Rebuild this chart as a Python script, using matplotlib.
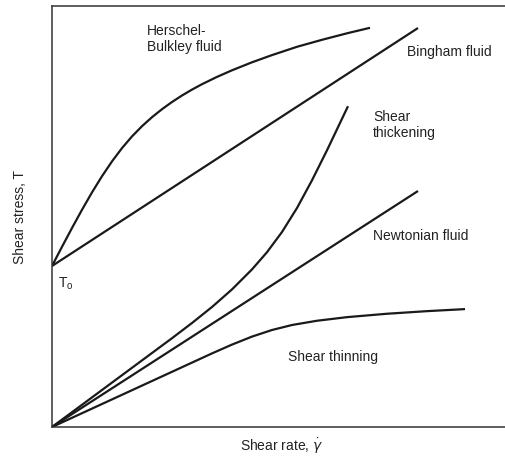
import matplotlib
matplotlib.use("Agg")
import matplotlib.pyplot as plt

plt.rcParams['font.family'] = ['Liberation Sans', 'DejaVu Sans']

# curves (arbitrary units: shear rate vs shear stress)
hb_x = [0, 10, 20, 30, 40, 50, 60, 70, 80, 90, 100, 110, 120, 130, 140, 150,
        165, 180, 200, 220, 245, 270, 295, 318]
hb_y = [161, 180.2, 199.0, 217.2, 234.6, 250.8, 265.6, 278.9, 290.6, 300.8, 309.8,
        317.8, 325.0, 331.5, 337.4, 342.8, 350.1, 356.7, 364.7, 371.9, 380.2, 387.2,
        393.7, 399.2]

bingham_x = [0, 366]
bingham_y = [161, 399]

newton_x = [0, 366]
newton_y = [0, 236]

thick_x = [0, 60, 120, 140, 160, 180, 200, 215, 230, 245, 260, 275, 296]
thick_y = [0, 44.4, 88.8, 104.0, 120.0, 137.6, 157.6, 174.8, 195.0, 219.0, 246.7,
           276.7, 320.8]

thin_x = [0, 80, 160, 180, 200, 220, 240, 265, 295, 335, 375, 413]
thin_y = [0, 36.8, 73.6, 82.4, 90.4, 97.0, 102.0, 106.25, 109.85, 113.25, 115.85, 117.9]

line_color = '#1a1a1a'
lw = 1.6

fig = plt.figure(figsize=(5.05, 4.59), dpi=100)
ax = fig.add_axes([52 / 505, 32 / 459, 460 / 505, 421 / 459])

for xs, ys in [(hb_x, hb_y), (bingham_x, bingham_y), (newton_x, newton_y),
               (thick_x, thick_y), (thin_x, thin_y)]:
    ax.plot(xs, ys, color=line_color, linewidth=lw, solid_capstyle='butt',
            solid_joinstyle='round')

ax.set_xlim(0, 460)
ax.set_ylim(0, 421)
ax.set_xticks([])
ax.set_yticks([])
ax.spines['right'].set_visible(False)
for side in ['left', 'bottom', 'top']:
    ax.spines[side].set_linewidth(1.1)
    ax.spines[side].set_color('#333333')

fs = 10
tc = '#222222'
ax.text(95, 403, 'Herschel-\nBulkley fluid', fontsize=fs, color=tc, va='top', ha='left',
        linespacing=1.15)
ax.text(355, 375, 'Bingham fluid', fontsize=fs, color=tc, va='center', ha='left')
ax.text(321, 317, 'Shear\nthickening', fontsize=fs, color=tc, va='top', ha='left',
        linespacing=1.15)
ax.text(321, 191, 'Newtonian fluid', fontsize=fs, color=tc, va='center', ha='left')
ax.text(236, 70, 'Shear thinning', fontsize=fs, color=tc, va='center', ha='left')
ax.text(6, 143, r'T$_\mathregular{o}$', fontsize=fs, color=tc, va='center', ha='left')

ax.set_ylabel('Shear stress, T', fontsize=fs, color=tc, labelpad=18)
ax.set_xlabel(r'Shear rate, $\dot{\gamma}$', fontsize=fs, color=tc, labelpad=7)

fig.savefig('out.png', dpi=100)
